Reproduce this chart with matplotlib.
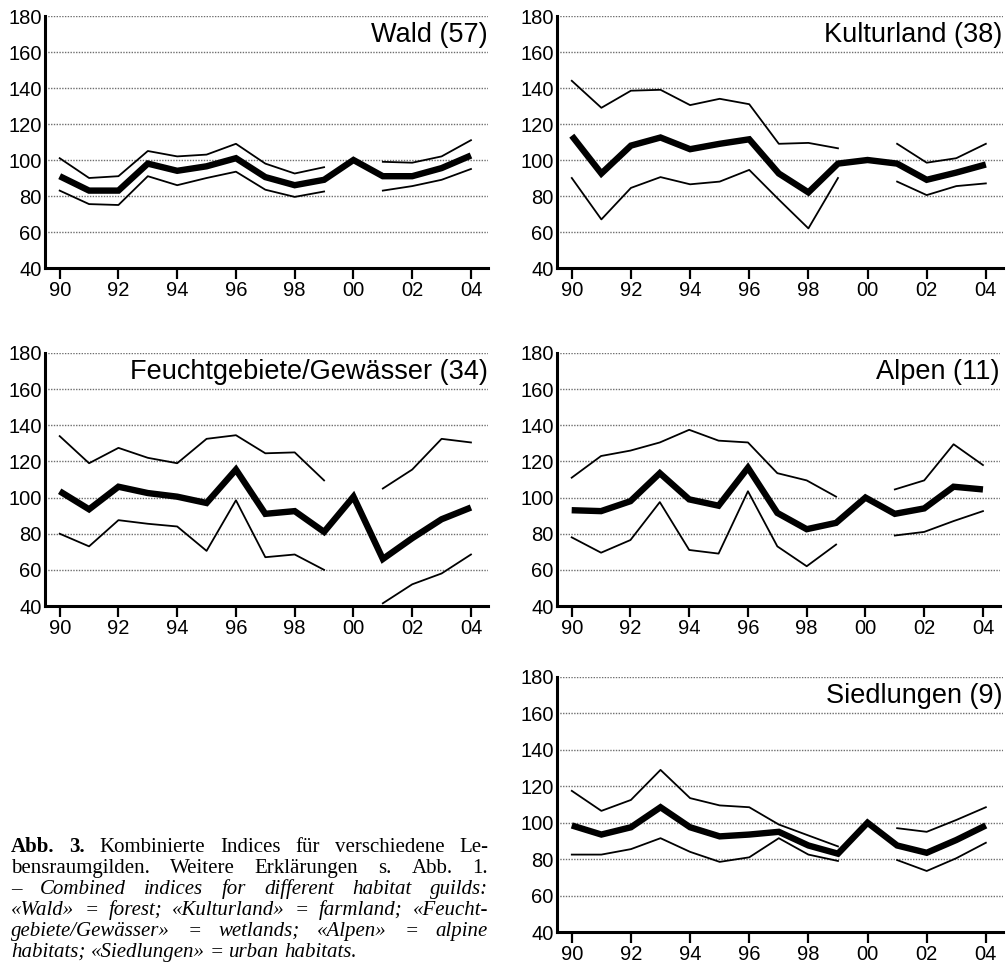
import matplotlib
matplotlib.use("Agg")
import matplotlib.pyplot as plt

nan = float("nan")

years = list(range(1990, 2005))
xtick_years = [1990, 1992, 1994, 1996, 1998, 2000, 2002, 2004]
xtick_labels = ["90", "92", "94", "96", "98", "00", "02", "04"]
yticks = [40, 60, 80, 100, 120, 140, 160, 180]

# Wald (57)
wald_mean = [91, 83, 83, 98, 94, 96.5, 101, 90.5, 86, 89, 100, 91, 91, 95.5, 102.5]
wald_upper = [101, 90, 91, 105, 102, 103, 109, 98, 92.5, 96, nan, 99, 98.5, 102, 111]
wald_lower = [83, 75.5, 75, 91, 86, 90, 93.5, 83.5, 79.5, 82.5, nan, 83, 85.5, 89, 95]

# Kulturland (38)
kultur_mean = [113.5, 92.5, 108, 112.5, 106, 109, 111.5, 92.5, 82, 98, 100, 98, 89, 93, 97.5]
kultur_upper = [144, 129, 138.5, 139, 130.5, 134, 131, 109, 109.5, 106.5, nan, 109, 98.5, 101, 109]
kultur_lower = [90, 67, 84.5, 90.5, 86.5, 88, 94.5, 78, 62, 90, nan, 88, 80.5, 85.5, 87]

# Feuchtgebiete/Gewässer (34)
feucht_mean = [103.5, 93.5, 106, 102.5, 100.5, 97, 115.5, 91, 92.5, 81, 100.5, 66, 77.5, 88, 94.5]
feucht_upper = [134, 119, 127.5, 122, 119, 132.5, 134.5, 124.5, 125, 109.5, nan, 105, 115.5, 132.5, 130.5]
feucht_lower = [80, 73, 87.5, 85.5, 84, 70.5, 98.5, 67, 68.5, 60, nan, 41.5, 52, 58, 68.5]

# Alpen (11)
alpen_mean = [93, 92.5, 98, 113.5, 99, 95.5, 116.5, 91.5, 82.5, 86, 100, 91, 94, 106, 104.5]
alpen_upper = [111, 123, 126, 130.5, 137.5, 131.5, 130.5, 113.5, 109.5, 100.5, nan, 104.5, 109.5, 129.5, 118]
alpen_lower = [78, 69.5, 76.5, 97.5, 71, 69, 103.5, 73, 62, 74, nan, 79, 81, 87, 92.5]

# Siedlungen (9)
sied_mean = [98.5, 93.5, 97.5, 108.5, 97.5, 92.5, 93.5, 95, 87.5, 83, 100, 87.5, 83.5, 90.5, 98.5]
sied_upper = [117.5, 106.5, 112.5, 129, 113.5, 109.5, 108.5, 99, 93, 87, nan, 97, 95, 101.5, 108.5]
sied_lower = [82.5, 82.5, 85.5, 91.5, 84, 78.5, 81, 91.5, 82.5, 79, nan, 79.5, 73.5, 80.5, 89]

panel_titles = ["Wald (57)", "Kulturland (38)", "Feuchtgebiete/Gewässer (34)",
                "Alpen (11)", "Siedlungen (9)"]

W, H = 1007, 973
fig = plt.figure(figsize=(W / 100, H / 100), dpi=100)
plt.rcParams["font.family"] = ["Liberation Sans", "DejaVu Sans"]

# pixel rects: left, right, top, bottom
rects = [(45, 488, 16, 268), (557, 1003, 16, 268), (45, 488, 353, 606),
         (557, 1000, 353, 606), (557, 1003, 677, 932)]
series = [(wald_mean, wald_upper, wald_lower),
          (kultur_mean, kultur_upper, kultur_lower),
          (feucht_mean, feucht_upper, feucht_lower),
          (alpen_mean, alpen_upper, alpen_lower),
          (sied_mean, sied_upper, sied_lower)]

for (l, r, t, b), (m, up, lo), title in zip(rects, series, panel_titles):
    ax = fig.add_axes([l / W, 1 - b / H, (r - l) / W, (b - t) / H])
    ax.set_xlim(1989.5, 2004.58)
    ax.set_ylim(40, 180)
    for yv in yticks[1:]:
        ax.axhline(yv, color="#6e6e6e", lw=1.0, ls=(0, (1, 1)), zorder=1)
    ax.plot(years, up, color="black", lw=1.3, zorder=3)
    ax.plot(years, lo, color="black", lw=1.3, zorder=3)
    ax.plot(years, m, color="black", lw=4.6, zorder=4,
            solid_joinstyle="miter", solid_capstyle="butt")
    for s in ["top", "right"]:
        ax.spines[s].set_visible(False)
    for s in ["left", "bottom"]:
        ax.spines[s].set_linewidth(2.2)
    ax.set_xticks(xtick_years)
    ax.set_xticklabels(xtick_labels)
    ax.set_yticks(yticks)
    ax.set_yticklabels([str(v) for v in yticks])
    ax.tick_params(axis="x", direction="out", length=8, width=1.6,
                   labelsize=14.5, pad=1.5)
    ax.tick_params(axis="y", length=0, labelsize=14.5, pad=2.5)
    ax.text(0.999, 0.925, title, transform=ax.transAxes, ha="right",
            va="center", fontsize=19.5)

# Caption (justified)
cap_lines = [
    [("Abb. 3.", "bold"), ("Kombinierte Indices für verschiedene Le-", "normal")],
    [("bensraumgilden. Weitere Erklärungen s. Abb. 1.", "normal")],
    [("–", "normal"), ("Combined indices for different habitat guilds:", "italic")],
    [("«Wald» = forest; «Kulturland» = farmland; «Feucht-", "italic")],
    [("gebiete/Gewässer» = wetlands; «Alpen» = alpine", "italic")],
    [("habitats; «Siedlungen» = urban habitats.", "italic")],
]
cap_left, cap_right = 11, 488
cap_base0, cap_step = 852, 21
cap_size = 15
renderer = fig.canvas.get_renderer()
for i, segs in enumerate(cap_lines):
    words = []
    for txt, sty in segs:
        for w in txt.split(" "):
            words.append((w, sty))
    objs = []
    widths = []
    for w, sty in words:
        t = fig.text(0, 1 - (cap_base0 + i * cap_step) / H, w,
                     family="Liberation Serif", fontsize=cap_size,
                     fontweight="bold" if sty == "bold" else "normal",
                     fontstyle="italic" if sty == "italic" else "normal",
                     va="baseline", ha="left")
        objs.append(t)
        widths.append(t.get_window_extent(renderer).width)
    last = i == len(cap_lines) - 1
    if last or len(words) == 1:
        gap = cap_size * 100 / 72 * 0.25
    else:
        gap = (cap_right - cap_left - sum(widths)) / (len(words) - 1)
    x = cap_left
    for t, wd in zip(objs, widths):
        t.set_x(x / W)
        x += wd + gap

fig.savefig("out.png", dpi=100)
